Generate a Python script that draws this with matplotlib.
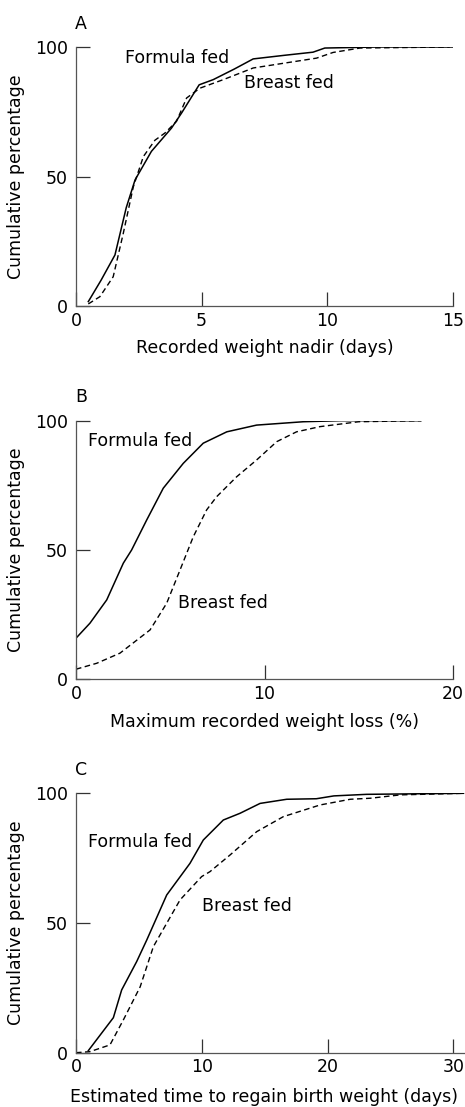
import matplotlib
matplotlib.use("Agg")
import matplotlib.pyplot as plt

plt.rcParams["font.family"] = ["DejaVu Sans"]

# Panel A: recorded weight nadir (days)
a_formula_x = [0.49, 1.0, 1.55, 2.0, 2.35, 3.0, 3.8, 4.2, 4.9, 5.46, 6.3, 7.05, 8.3, 9.43, 9.9, 12.0, 15.0]
a_formula_y = [1.7, 10.0, 19.7, 38.0, 48.7, 59.7, 68.7, 74.5, 85.4, 87.4, 91.5, 95.4, 96.8, 98.0, 99.6, 100.0, 100.0]
a_breast_x = [0.49, 0.95, 1.48, 1.88, 2.28, 2.68, 3.14, 3.54, 4.0, 4.4, 4.93, 5.86, 7.05, 9.57, 10.23, 11.3, 14.87]
a_breast_y = [0.8, 3.6, 11.3, 28.0, 46.0, 57.7, 64.0, 66.8, 71.3, 80.3, 84.1, 87.4, 91.9, 95.7, 97.9, 99.6, 100.0]

# Panel B: maximum recorded weight loss (%)
b_formula_x = [0.0, 0.74, 1.63, 2.51, 2.95, 3.75, 4.63, 5.69, 6.75, 8.0, 9.58, 12.06, 14.0, 18.3]
b_formula_y = [15.9, 21.7, 30.7, 44.9, 50.0, 61.6, 73.9, 83.5, 91.3, 95.7, 98.3, 99.6, 100.0, 100.0]
b_breast_x = [0.0, 1.1, 2.33, 3.93, 4.81, 5.52, 6.22, 6.93, 7.46, 8.52, 9.58, 10.65, 11.7, 12.94, 15.0, 18.3]
b_breast_y = [3.9, 6.2, 10.1, 19.1, 29.4, 42.3, 55.1, 65.5, 70.6, 78.3, 84.8, 91.9, 95.7, 97.7, 99.6, 100.0]

# Panel C: estimated time to regain birth weight (days)
c_formula_x = [0.98, 2.97, 3.63, 4.82, 5.62, 7.21, 9.06, 10.12, 11.71, 13.04, 14.63, 16.75, 19.1, 20.5, 23.1, 30.8]
c_formula_y = [0.8, 13.5, 24.2, 35.1, 43.4, 60.8, 73.0, 82.0, 89.7, 92.3, 96.1, 97.7, 97.9, 99.0, 99.6, 100.0]
c_breast_x = [0.0, 1.1, 2.7, 3.76, 5.1, 6.15, 8.27, 9.99, 10.65, 12.24, 14.36, 16.48, 19.4, 21.8, 23.4, 25.8, 30.8]
c_breast_y = [0.0, 0.4, 3.0, 12.6, 25.4, 40.9, 58.9, 67.9, 69.8, 76.2, 85.2, 91.0, 95.5, 97.7, 98.1, 99.4, 100.0]

panels = [
    dict(letter="A", rect=[76 / 465, 1 - 306 / 1107, 377 / 465, 259 / 1107],
         xlim=(0, 15), xticks=[0, 5, 10, 15], xlabel="Recorded weight nadir (days)",
         formula=(a_formula_x, a_formula_y), breast=(a_breast_x, a_breast_y),
         formula_pos=(1.95, 95.8), breast_pos=(6.7, 86.0)),
    dict(letter="B", rect=[76 / 465, 1 - 679.3 / 1107, 377 / 465, 258.6 / 1107],
         xlim=(0, 20), xticks=[0, 10, 20], xlabel="Maximum recorded weight loss (%)",
         formula=(b_formula_x, b_formula_y), breast=(b_breast_x, b_breast_y),
         formula_pos=(0.64, 92.2), breast_pos=(5.43, 29.4)),
    dict(letter="C", rect=[76 / 465, 1 - 1052.7 / 1107, 390 / 465, 259.4 / 1107],
         xlim=(0, 31), xticks=[0, 10, 20, 30], xlabel="Estimated time to regain birth weight (days)",
         formula=(c_formula_x, c_formula_y), breast=(c_breast_x, c_breast_y),
         formula_pos=(0.98, 81.3), breast_pos=(10.0, 56.5)),
]

fs = 12.5
fig = plt.figure(figsize=(4.65, 11.07), dpi=100)

for p in panels:
    ax = fig.add_axes(p["rect"])
    ax.plot(*p["formula"], color="black", lw=1.1, solid_joinstyle="round")
    ax.plot(*p["breast"], color="black", lw=1.0, ls=(0, (4, 2.5)))
    ax.set_xlim(*p["xlim"])
    ax.set_ylim(0, 100)
    ax.set_xticks(p["xticks"])
    ax.set_yticks([0, 50, 100])
    for s in ["top", "right"]:
        ax.spines[s].set_visible(False)
    for s in ["left", "bottom"]:
        ax.spines[s].set_color("#555555")
        ax.spines[s].set_linewidth(0.9)
    ax.tick_params(axis="x", direction="in", length=10, width=0.9, color="#333333",
                   labelsize=fs, pad=4)
    ax.tick_params(axis="y", direction="in", length=10, width=0.9, color="#333333",
                   labelsize=fs, pad=6)
    ax.set_xlabel(p["xlabel"], fontsize=fs, labelpad=7)
    ax.set_ylabel("Cumulative percentage", fontsize=fs, labelpad=7)
    ax.text(p["formula_pos"][0], p["formula_pos"][1], "Formula fed", fontsize=fs,
            ha="left", va="center")
    ax.text(p["breast_pos"][0], p["breast_pos"][1], "Breast fed", fontsize=fs,
            ha="left", va="center")
    ax.text(-0.003, 1.09, p["letter"], transform=ax.transAxes, fontsize=fs,
            ha="left", va="center")
    if p["letter"] == "C":
        # label in the reference is centred under the narrower panels above
        ax.xaxis.set_label_coords(0.482, -0.135)

fig.savefig("out.png", dpi=100)
